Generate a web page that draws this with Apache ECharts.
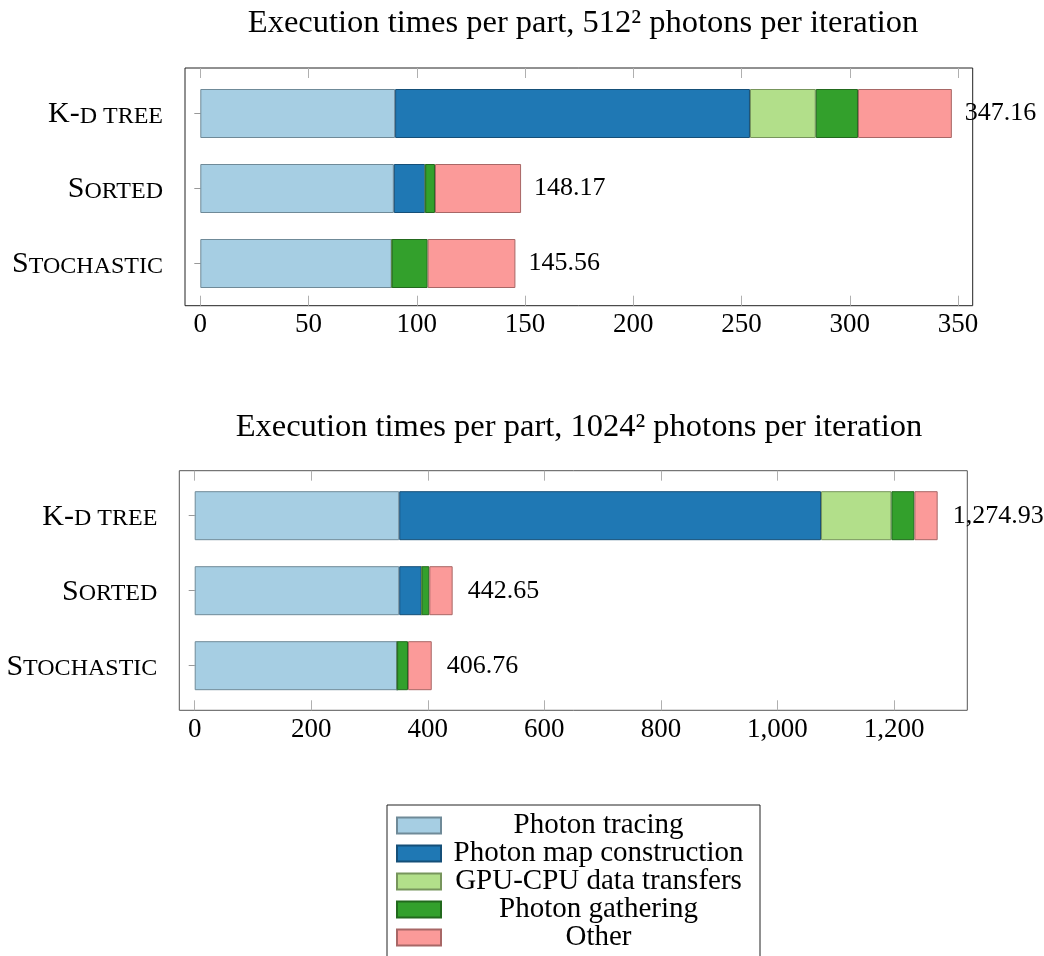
<!DOCTYPE html>
<html>
<head>
<meta charset="utf-8">
<script src="https://cdn.jsdelivr.net/npm/echarts@6/dist/echarts.min.js"></script>
<style>
html,body{margin:0;padding:0;background:#fff;}
#chart{width:1044px;height:956px;}
</style>
</head>
<body>
<div id="chart"></div>
<script>
// ---- data ----
const categories = ['K-d tree', 'Sorted', 'Stochastic'];
const seriesNames = ['Photon tracing', 'Photon map construction', 'GPU-CPU data transfers', 'Photon gathering', 'Other'];

// 512^2 photons per iteration
const tracing512 = [90.0, 89.4, 88.4];
const mapBuild512 = [163.9, 14.5, 0];
const transfers512 = [30.4, 0, 0];
const gathering512 = [19.5, 4.5, 16.6];
const other512 = [43.36, 39.77, 40.56];
const totals512 = [347.16, 148.17, 145.56];
const ticks512 = [0, 50, 100, 150, 200, 250, 300, 350];

// 1024^2 photons per iteration
const tracing1024 = [351.0, 351.0, 347.4];
const mapBuild1024 = [723.8, 38.4, 0];
const transfers1024 = [120.8, 0, 0];
const gathering1024 = [39.4, 13.2, 18.6];
const other1024 = [39.93, 40.05, 40.76];
const totals1024 = [1274.93, 442.65, 406.76];
const ticks1024 = [0, 200, 400, 600, 800, 1000, 1200];

const titles = ['Execution times per part, 512\u00B2 photons per iteration',
                'Execution times per part, 1024\u00B2 photons per iteration'];

// ---- styles ----
const FONT = 'Liberation Serif';
const colors = ['#a6cee3', '#1f78b4', '#b2df8a', '#33a02c', '#fb9a99'];
const borders = ['#6f8a98', '#154f78', '#77955c', '#22691d', '#a86766'];

function smallCaps(s) {
  let out = '', cur = null, buf = '';
  for (const ch of s) {
    const cls = (ch === ' ' || (ch >= 'a' && ch <= 'z')) ? 's' : 'b';
    if (cls !== cur && buf) { out += '{' + cur + '|' + buf + '}'; buf = ''; }
    cur = cls;
    buf += cls === 's' ? ch.toUpperCase() : ch;
  }
  if (buf) out += '{' + cur + '|' + buf + '}';
  return out;
}
const fmtNum = v => v.toLocaleString('en-US', {maximumFractionDigits: 2});
const fmtTotal = v => v.toLocaleString('en-US', {minimumFractionDigits: 2, maximumFractionDigits: 2});

const frameAxis = gi => ({gridIndex: gi, type: 'value', show: false, min: 0, max: 1});

function valueAxes(gi, ticks, offBottom, offTop) {
  const base = {
    gridIndex: gi, type: 'value', min: ticks[0], max: ticks[ticks.length - 1],
    interval: ticks[1] - ticks[0],
    axisLine: {show: false}, splitLine: {show: false},
    axisTick: {show: true, inside: true, length: 10, lineStyle: {color: '#b0b0b0', width: 1}}
  };
  return [
    Object.assign({}, base, {position: 'bottom', offset: offBottom,
      axisLabel: {show: true, fontFamily: FONT, fontSize: 27, color: '#000', margin: 6, formatter: fmtNum}}),
    Object.assign({}, base, {position: 'top', offset: offTop, axisLabel: {show: false}})
  ];
}

function catAxes(gi, off) {
  const base = {
    gridIndex: gi, type: 'category', data: categories, inverse: true, position: 'left', offset: off,
    axisLine: {show: false}, splitLine: {show: false}
  };
  return [
    Object.assign({}, base, {
      axisTick: {show: true, inside: false, length: 6, alignWithLabel: true, lineStyle: {color: '#999', width: 1}},
      axisLabel: {show: true, margin: 22, color: '#000', formatter: v => smallCaps(v),
        rich: {
          b: {fontFamily: FONT, fontSize: 30, lineHeight: 32, verticalAlign: 'bottom', color: '#000'},
          s: {fontFamily: FONT, fontSize: 24, lineHeight: 32, verticalAlign: 'bottom', color: '#000', padding: [0, 0, 1, 0]}
        }}
    }),
    Object.assign({}, base, {
      axisTick: {show: true, inside: true, length: 6, alignWithLabel: true, lineStyle: {color: '#999', width: 1}},
      axisLabel: {show: false}
    })
  ];
}

function makeSeries(sets, totals, axisIdx, dist, stackName) {
  return sets.map((d, i) => ({
    name: seriesNames[i], type: 'bar', stack: stackName,
    xAxisIndex: axisIdx, yAxisIndex: axisIdx, data: d, barWidth: 49, clip: false,
    itemStyle: {color: colors[i], borderColor: borders[i], borderWidth: 1},
    emphasis: {disabled: true},
    label: i === sets.length - 1 ? {
      show: true, position: 'right', distance: dist, fontFamily: FONT, fontSize: 26, color: '#000',
      formatter: p => fmtTotal(totals[p.dataIndex])
    } : {show: false}
  }));
}

const option = {
  animation: false,
  textStyle: {fontFamily: FONT},
  title: [
    {text: titles[0], left: 578, top: 2, textAlign: 'center',
     textStyle: {fontFamily: FONT, fontSize: 32.5, fontWeight: 'normal', color: '#000'}},
    {text: titles[1], left: 574, top: 406, textAlign: 'center',
     textStyle: {fontFamily: FONT, fontSize: 32.5, fontWeight: 'normal', color: '#000'}}
  ],
  legend: {
    orient: 'vertical', left: 387, top: 805, height: 180,
    data: seriesNames,
    icon: 'rect',
    itemWidth: 44, itemHeight: 16, itemGap: -1,
    padding: [6, 9, 12, 9],
    borderColor: '#222', borderWidth: 1,
    selectedMode: false,
    formatter: '{c|{name}}',
    textStyle: {fontFamily: FONT, fontSize: 29, lineHeight: 28, color: '#000',
      rich: {c: {width: 305, align: 'center', fontFamily: FONT, fontSize: 29, lineHeight: 28, color: '#000'}}}
  },
  grid: [
    {left: 185, top: 68, width: 787.7, height: 237.7, show: true, borderColor: '#222', borderWidth: 1, backgroundColor: 'transparent'},
    {left: 200.3, top: 76, width: 757.7, height: 225},
    {left: 179.3, top: 470.7, width: 788, height: 239.6, show: true, borderColor: '#555', borderWidth: 1, backgroundColor: 'transparent'},
    {left: 194.7, top: 478.2, width: 699.3, height: 225}
  ],
  xAxis: [frameAxis(0), ...valueAxes(1, ticks512, 4.7, 8), frameAxis(2), ...valueAxes(3, ticks1024, 7.1, 7.5)],
  yAxis: [frameAxis(0), ...catAxes(1, 15.3), frameAxis(2), ...catAxes(3, 15.4)],
  series: [
    ...makeSeries([tracing512, mapBuild512, transfers512, gathering512, other512], totals512, 1, 13, 'top'),
    ...makeSeries([tracing1024, mapBuild1024, transfers1024, gathering1024, other1024], totals1024, 4, 15, 'bottom')
  ]
};

const chart = echarts.init(document.getElementById('chart'), null, {renderer: 'canvas'});
chart.setOption(option);
</script>
</body>
</html>
